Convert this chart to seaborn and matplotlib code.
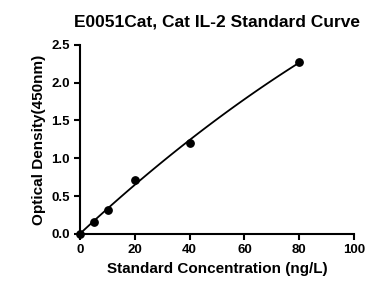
import matplotlib
matplotlib.use("Agg")
import matplotlib.pyplot as plt
import seaborn as sns
import pandas as pd

# ==========================================================
# DATA
# ==========================================================

concentration = [0, 5, 10, 20, 40, 80]
optical_density = [0.0, 0.16, 0.32, 0.72, 1.2, 2.27]

x_ticks = [0, 20, 40, 60, 80, 100]
y_ticks = [0.0, 0.5, 1.0, 1.5, 2.0, 2.5]

df = pd.DataFrame({"conc": concentration, "od": optical_density})

# ==========================================================
# PLOT
# ==========================================================

sns.set_style("ticks")
plt.rcParams["font.family"] = ["Liberation Sans", "DejaVu Sans"]
plt.rcParams["font.weight"] = "bold"
plt.rcParams["text.color"] = "black"
plt.rcParams["axes.labelcolor"] = "black"

fig = plt.figure(figsize=(3.66, 2.88), dpi=100)
ax = fig.add_axes([0.219, 0.1875, 0.748, 0.657])

sns.regplot(
    data=df, x="conc", y="od", order=2, ci=None, ax=ax,
    color="black",
    scatter_kws={"s": 28, "alpha": 1, "zorder": 3, "clip_on": False},
    line_kws={"lw": 1.3},
)

ax.set_xlim(0, 100)
ax.set_ylim(0, 2.5)
ax.set_xticks(x_ticks)
ax.set_yticks(y_ticks)
ax.set_xticklabels([str(v) for v in x_ticks])
ax.set_yticklabels([f"{v:.1f}" for v in y_ticks])

sns.despine(ax=ax)
for side in ["left", "bottom"]:
    ax.spines[side].set_linewidth(1.5)
    ax.spines[side].set_color("black")
ax.tick_params(width=1.5, length=4, labelsize=9.5, colors="black")

ax.set_xlabel("Standard Concentration (ng/L)", fontsize=11, fontweight="bold")
ax.set_ylabel("Optical Density(450nm)", fontsize=11, fontweight="bold")
ax.set_title("E0051Cat, Cat IL-2 Standard Curve", fontsize=12.5,
             fontweight="bold", pad=13)

fig.savefig("out.png", dpi=100)
